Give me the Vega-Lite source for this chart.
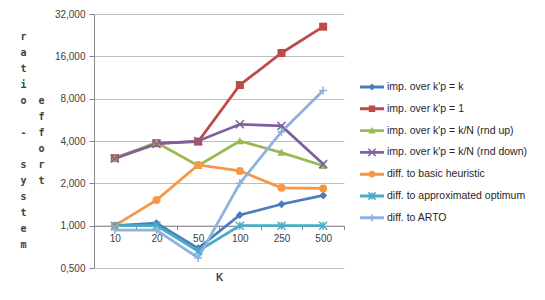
{
  "$schema": "https://vega.github.io/schema/vega-lite/v6.json",
  "width": 250,
  "height": 254,
  "autosize": {"type": "none"},
  "padding": {"left": 94, "top": 14, "right": 201, "bottom": 32},
  "config": {"view": {"stroke": null}, "font": "Liberation Sans"},
  "data": {
    "values": [
      {"K": 10, "s": "imp. over k'p = k", "v": 1.0},
      {"K": 20, "s": "imp. over k'p = k", "v": 1.04},
      {"K": 50, "s": "imp. over k'p = k", "v": 0.69},
      {"K": 100, "s": "imp. over k'p = k", "v": 1.19},
      {"K": 250, "s": "imp. over k'p = k", "v": 1.42},
      {"K": 500, "s": "imp. over k'p = k", "v": 1.64},
      {"K": 10, "s": "imp. over k'p = 1", "v": 3.02},
      {"K": 20, "s": "imp. over k'p = 1", "v": 3.86},
      {"K": 50, "s": "imp. over k'p = 1", "v": 3.96},
      {"K": 100, "s": "imp. over k'p = 1", "v": 10.0},
      {"K": 250, "s": "imp. over k'p = 1", "v": 16.9},
      {"K": 500, "s": "imp. over k'p = 1", "v": 26.0},
      {"K": 10, "s": "imp. over k'p = k/N (rnd up)", "v": 3.0},
      {"K": 20, "s": "imp. over k'p = k/N (rnd up)", "v": 3.9},
      {"K": 50, "s": "imp. over k'p = k/N (rnd up)", "v": 2.67},
      {"K": 100, "s": "imp. over k'p = k/N (rnd up)", "v": 4.0},
      {"K": 250, "s": "imp. over k'p = k/N (rnd up)", "v": 3.31},
      {"K": 500, "s": "imp. over k'p = k/N (rnd up)", "v": 2.67},
      {"K": 10, "s": "imp. over k'p = k/N (rnd down)", "v": 3.0},
      {"K": 20, "s": "imp. over k'p = k/N (rnd down)", "v": 3.81},
      {"K": 50, "s": "imp. over k'p = k/N (rnd down)", "v": 4.0},
      {"K": 100, "s": "imp. over k'p = k/N (rnd down)", "v": 5.26},
      {"K": 250, "s": "imp. over k'p = k/N (rnd down)", "v": 5.12},
      {"K": 500, "s": "imp. over k'p = k/N (rnd down)", "v": 2.74},
      {"K": 10, "s": "diff. to basic heuristic", "v": 1.0},
      {"K": 20, "s": "diff. to basic heuristic", "v": 1.52},
      {"K": 50, "s": "diff. to basic heuristic", "v": 2.7},
      {"K": 100, "s": "diff. to basic heuristic", "v": 2.45},
      {"K": 250, "s": "diff. to basic heuristic", "v": 1.86},
      {"K": 500, "s": "diff. to basic heuristic", "v": 1.84},
      {"K": 10, "s": "diff. to approximated optimum", "v": 1.0},
      {"K": 20, "s": "diff. to approximated optimum", "v": 1.0},
      {"K": 50, "s": "diff. to approximated optimum", "v": 0.66},
      {"K": 100, "s": "diff. to approximated optimum", "v": 1.0},
      {"K": 250, "s": "diff. to approximated optimum", "v": 1.0},
      {"K": 500, "s": "diff. to approximated optimum", "v": 1.0},
      {"K": 10, "s": "diff. to ARTO", "v": 0.93},
      {"K": 20, "s": "diff. to ARTO", "v": 0.93},
      {"K": 50, "s": "diff. to ARTO", "v": 0.59},
      {"K": 100, "s": "diff. to ARTO", "v": 2.0},
      {"K": 250, "s": "diff. to ARTO", "v": 4.66},
      {"K": 500, "s": "diff. to ARTO", "v": 9.13}
    ]
  },
  "encoding": {
    "x": {
      "field": "K",
      "type": "ordinal",
      "scale": {"type": "band", "paddingInner": 0, "paddingOuter": 0},
      "axis": {
        "offset": -42.3,
        "labelAngle": 0,
        "labelFontSize": 10,
        "labelColor": "#404040",
        "labelPadding": 4,
        "tickBand": "extent",
        "tickSize": 4,
        "tickColor": "#868686",
        "domainColor": "#868686",
        "grid": false,
        "title": "K",
        "titleFontWeight": "bold",
        "titleFontSize": 10,
        "titleColor": "#404040",
        "titleY": 52,
        "titleBaseline": "middle"
      }
    },
    "y": {
      "field": "v",
      "type": "quantitative",
      "scale": {"type": "log", "base": 2, "domain": [0.5, 32], "nice": false},
      "axis": {
        "values": [0.5, 1, 2, 4, 8, 16, 32],
        "labelExpr": "replace(format(datum.value, '.3f'), '.', ',')",
        "labelFontSize": 10,
        "labelColor": "#404040",
        "labelPadding": 4,
        "tickSize": 5,
        "tickColor": "#868686",
        "domainColor": "#868686",
        "gridColor": "#BFBFBF",
        "title": ["r", "a", "t", "i", "o\u00a0\u00a0e", "\u200b\u00a0\u00a0\u00a0f", "-\u00a0\u00a0f", "\u200b\u00a0\u00a0\u00a0o", "s\u00a0\u00a0r", "y\u00a0\u00a0t", "s", "t", "e", "m"],
        "titleAngle": 0,
        "titleAlign": "left",
        "titleBaseline": "top",
        "titleX": -74,
        "titleY": 17,
        "titleFont": "DejaVu Sans Mono",
        "titleFontSize": 10,
        "titleFontWeight": "bold",
        "titleLineHeight": 16,
        "titleColor": "#404040"
      }
    },
    "color": {
      "field": "s",
      "type": "nominal",
      "scale": {
        "domain": ["imp. over k'p = k", "imp. over k'p = 1", "imp. over k'p = k/N (rnd up)", "imp. over k'p = k/N (rnd down)", "diff. to basic heuristic", "diff. to approximated optimum", "diff. to ARTO"],
        "range": ["#4A7EBB", "#BE4B48", "#98B954", "#7D60A0", "#F79646", "#4BACC6", "#8EB1DD"]
      },
      "legend": {
        "orient": "none",
        "legendX": 266,
        "legendY": 61,
        "title": null,
        "labelFontSize": 10.5,
        "labelColor": "#262626",
        "symbolSize": 576,
        "labelOffset": 3,
        "rowPadding": 3.8,
        "symbolStrokeWidth": 0,
        "encode": {
          "symbols": {
            "update": {
              "shape": {"signal": "['M-1,-0.12L1,-0.12L1,0.12L-1,0.12ZM0,-0.3L0.3,0L0,0.3L-0.3,0Z', 'M-1,-0.12L1,-0.12L1,0.12L-1,0.12ZM-0.27,-0.27L0.27,-0.27L0.27,0.27L-0.27,0.27Z', 'M-1,-0.12L1,-0.12L1,0.12L-1,0.12ZM0,-0.3L0.3,0.24L-0.3,0.24Z', 'M-1,-0.12L1,-0.12L1,0.12L-1,0.12ZM-0.256,-0.344L0.344,0.256L0.256,0.344L-0.344,-0.256ZM-0.256,0.344L-0.344,0.256L0.256,-0.344L0.344,-0.256Z', 'M-1,-0.12L1,-0.12L1,0.12L-1,0.12ZM-0.28,0A0.28,0.28,0,1,1,0.28,0A0.28,0.28,0,1,1,-0.28,0Z', 'M-1,-0.12L1,-0.12L1,0.12L-1,0.12ZM-0.256,-0.344L0.344,0.256L0.256,0.344L-0.344,-0.256ZM-0.256,0.344L-0.344,0.256L0.256,-0.344L0.344,-0.256ZM-0.0625,-0.3L0.0625,-0.3L0.0625,0.3L-0.0625,0.3Z', 'M-1,-0.12L1,-0.12L1,0.12L-1,0.12ZM-0.0625,-0.3L0.0625,-0.3L0.0625,0.3L-0.0625,0.3Z'][indexof(domain('color'), datum.value)]"},
              "fill": {"scale": "color", "field": "value"},
              "stroke": {"value": "transparent"},
              "opacity": {"value": 1}
            }
          }
        }
      }
    }
  },
  "layer": [
    {"mark": {"type": "line", "strokeWidth": 2.75}},
    {
      "mark": {
        "type": "point",
        "filled": true,
        "size": 64,
        "opacity": 1,
        "shape": {"expr": "['M0,-1L1,0L0,1L-1,0Z', 'square', 'M0,-1L1,0.8L-1,0.8Z', 'M-0.866,-1.134L1.134,0.866L0.866,1.134L-1.134,-0.866ZM-0.866,1.134L-1.134,0.866L0.866,-1.134L1.134,-0.866Z', 'circle', 'M-0.866,-1.134L1.134,0.866L0.866,1.134L-1.134,-0.866ZM-0.866,1.134L-1.134,0.866L0.866,-1.134L1.134,-0.866ZM-0.19,-1L0.19,-1L0.19,1L-0.19,1Z', 'M-1,-0.19L1,-0.19L1,0.19L-1,0.19ZM-0.19,-1L0.19,-1L0.19,1L-0.19,1Z'][indexof(domain('color'), datum.s)]"}
      }
    }
  ]
}
